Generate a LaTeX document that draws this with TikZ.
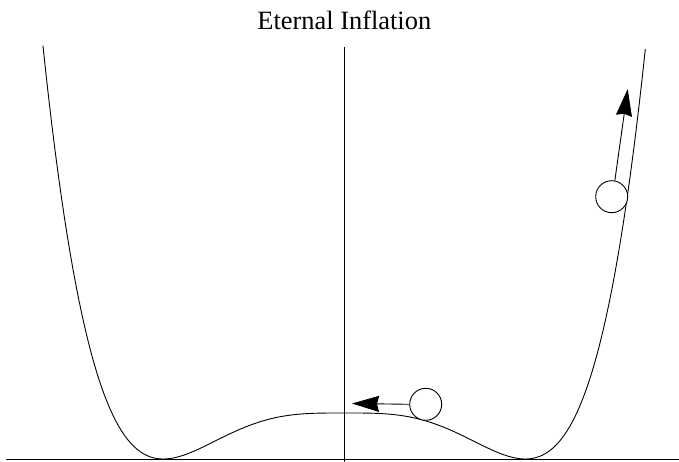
\documentclass[tikz,border=0pt]{standalone}
\usepackage{fontspec}
\setmainfont{Liberation Serif}
\usetikzlibrary{positioning,arrows.meta,calc}

\begin{document}
\begin{tikzpicture}[x=1bp, y=-1bp,
    ball/.style={circle, draw=black, fill=white, line width=0.9bp, inner sep=0pt, minimum size=32bp},
    push/.style={-{Stealth[length=27bp, width=16bp, inset=2bp]}, line width=0.9bp},
    axis/.style={line width=0.9bp}
]
    \useasboundingbox (0,0) rectangle (679,462);
    \node[anchor=base, font=\fontsize{26.5}{30}\selectfont] (title) at (344.3,30) {Eternal Inflation};
    % axes
    \coordinate (xl) at (6,459.5);
    \coordinate (xr) at (679,459.5);
    \coordinate (yt) at (344.3,47);
    \coordinate (yb) at (344.3,462);
    \draw[axis] (xl) -- (xr);
    \draw[axis] (yt) -- (yb);
    % potential
    \draw[line width=0.9bp] plot[domain=-1.665:1.665, samples=200]
        ({344.3+181*\x}, {459-92*(\x*\x*\x*\x*(ln(max(\x*\x,0.0001))-0.5)+0.5)});
    % balls and pushes
    \node[ball] (ballR) at (611.7,196.7) {};
    \node[ball] (ballL) at (425.7,404.3) {};
    \coordinate (tipR) at (627.7,89);
    \coordinate (tipL) at (352,403.5);
    \draw[push] (ballR.79) -- (tipR);
    \draw[push] (ballL.west) -- (tipL);
\end{tikzpicture}
\end{document}
